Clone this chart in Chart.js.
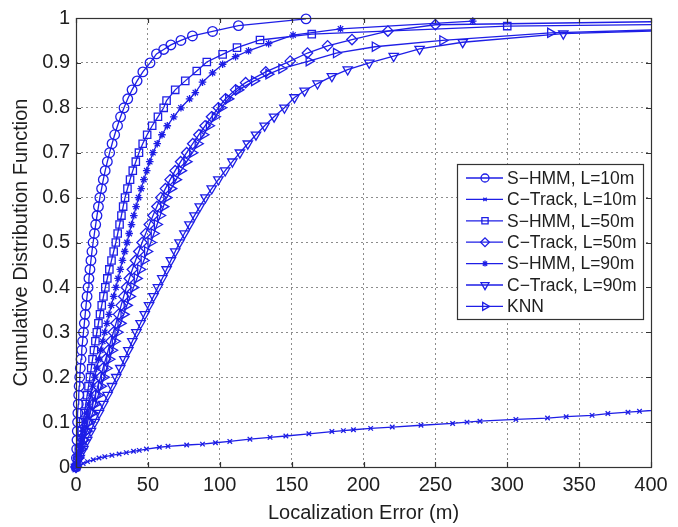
<!DOCTYPE html>
<html>
<head>
<meta charset="utf-8">
<script src="https://cdn.jsdelivr.net/npm/chart.js"></script>
<style>
  html, body { margin: 0; padding: 0; background: #fff; }
  #wrap { width: 678px; height: 527px; }
</style>
</head>
<body>
<div id="wrap"><canvas id="cdfChart" width="678" height="527"></canvas></div>
<script>
// legend labels, in legend order
const seriesNames = ['S\u2212HMM, L=10m', 'C\u2212Track, L=10m', 'S\u2212HMM, L=50m',
  'C\u2212Track, L=50m', 'S\u2212HMM, L=90m', 'C\u2212Track, L=90m', 'KNN'];

// CDF levels shared by the dense (lower) part of the curves
const levels = [0, 0.02, 0.04, 0.06, 0.08, 0.10, 0.12, 0.14, 0.16, 0.18, 0.20,
  0.22, 0.24, 0.26, 0.28, 0.30, 0.32, 0.34, 0.36, 0.38, 0.40, 0.42, 0.44, 0.46,
  0.48, 0.50, 0.52, 0.54, 0.56, 0.58, 0.60, 0.62, 0.64, 0.66, 0.68, 0.70, 0.72,
  0.74, 0.76, 0.78, 0.80];

// S-HMM, L=10m (circles)
const shmm10X = [0, 0.3, 0.5, 0.7, 0.9, 1.1, 1.3, 1.6, 1.9, 2.2, 2.6, 3.0, 3.5, 4.0,
  4.6, 5.2, 5.8, 6.4, 7.0, 7.7, 8.4, 9.0, 9.7, 10.4, 11.1, 11.9, 12.8, 13.7, 14.6,
  15.6, 16.6, 17.8, 19.0, 20.3, 21.8, 23.4, 25.1, 26.9, 28.9, 31.0, 33.4];
const shmm10TailX = [36, 39, 42.5, 46.5, 51.5, 56, 61, 66, 73, 81, 95, 113, 160];
const shmm10TailY = [0.82, 0.84, 0.86, 0.88, 0.90, 0.92, 0.93, 0.94, 0.95, 0.96, 0.97, 0.983, 0.998];

// C-Track, L=10m (x marks), full curve
const ctrack10X = [0, 2, 5, 8, 12, 16, 20, 25, 30, 35, 40, 44, 49, 58, 64, 77, 88, 97,
  107, 121, 135, 146, 162, 178, 186, 193, 205, 220, 240, 262, 272, 281, 306, 328,
  341, 359, 370, 384, 392, 430];
const ctrack10Y = [0, 0.003, 0.008, 0.012, 0.016, 0.02, 0.023, 0.026, 0.029, 0.032,
  0.035, 0.037, 0.04, 0.044, 0.046, 0.049, 0.051, 0.054, 0.057, 0.062, 0.066, 0.069,
  0.074, 0.079, 0.081, 0.083, 0.086, 0.089, 0.093, 0.097, 0.1, 0.102, 0.106, 0.109,
  0.112, 0.115, 0.119, 0.122, 0.124, 0.133];

// S-HMM, L=50m (squares)
const shmm50X = [0, 1.0, 2.0, 3.0, 4.0, 5.0, 5.9, 6.8, 7.8, 8.7, 9.7, 10.6, 11.5, 12.5,
  13.5, 14.5, 15.6, 16.7, 17.9, 19.1, 20.4, 21.8, 23.2, 24.7, 26.2, 27.7, 29.0, 30.3,
  31.6, 32.8, 34.1, 35.8, 37.6, 39.5, 41.6, 43.8, 46.4, 49.5, 53.0, 57.0, 61.0];
const shmm50TailX = [63, 69, 76, 84, 91, 102, 112, 128, 164, 300, 430];
const shmm50TailY = [0.816, 0.84, 0.86, 0.882, 0.902, 0.919, 0.934, 0.951, 0.964, 0.982, 0.986];

// C-Track, L=50m (diamonds)
const ctrack50X = [0, 1.6, 3.2, 4.8, 6.4, 8.0, 9.8, 11.6, 13.4, 15.2, 17.0, 18.8, 20.6,
  22.4, 24.2, 26.0, 27.8, 29.6, 31.4, 33.2, 35.0, 37.1, 39.2, 41.4, 43.7, 46.0, 48.5,
  51.0, 53.6, 56.3, 59.0, 62.2, 65.5, 69.0, 72.8, 77.0, 81.2, 85.5, 89.8, 94.3, 99.0];
const ctrack50TailX = [104, 111, 118, 132, 149, 161, 175, 192, 217, 250, 430];
const ctrack50TailY = [0.82, 0.84, 0.856, 0.88, 0.904, 0.922, 0.938, 0.952, 0.971, 0.985, 0.993];

// S-HMM, L=90m (stars)
const shmm90X = [0, 1.2, 2.4, 3.6, 4.8, 6.0, 7.4, 8.8, 10.2, 11.6, 13.0, 14.4, 15.8,
  17.2, 18.6, 20.0, 21.5, 23.0, 24.6, 26.2, 27.8, 29.3, 30.8, 32.3, 33.9, 35.5, 37.0,
  38.6, 40.2, 41.8, 43.5, 45.3, 47.2, 49.2, 51.3, 53.5, 56.5, 59.8, 63.5, 68.0, 73.0];
const shmm90TailX = [79, 83, 88, 95, 102, 111, 120, 134, 151, 184, 276];
const shmm90TailY = [0.82, 0.834, 0.857, 0.878, 0.897, 0.914, 0.927, 0.943, 0.962, 0.976, 0.993];

// C-Track, L=90m (down triangles)
const ctrack90X = [0, 2.6, 5.2, 7.8, 10.4, 13.0, 16.0, 19.0, 22.0, 25.0, 28.0, 30.8,
  33.6, 36.4, 39.2, 42.0, 44.9, 47.8, 50.8, 53.9, 57.0, 60.0, 63.0, 66.0, 69.0, 72.0,
  75.4, 78.9, 82.4, 86.1, 90.0, 94.4, 99.0, 103.8, 108.8, 114.0, 119.5, 125.2, 131.2,
  137.8, 145.0];
const ctrack90TailX = [152, 159, 168, 178, 189, 204, 221, 239, 269, 339, 430];
const ctrack90TailY = [0.823, 0.838, 0.854, 0.87, 0.885, 0.9, 0.915, 0.931, 0.946, 0.965, 0.974];

// KNN (right triangles)
const knnX = [0, 1.9, 3.8, 5.7, 7.6, 9.5, 11.5, 13.5, 15.5, 17.5, 19.5, 21.4, 23.3,
  25.2, 27.1, 29.0, 31.1, 33.2, 35.4, 37.7, 40.0, 42.4, 44.8, 47.2, 49.6, 52.0, 54.2,
  56.4, 58.6, 60.8, 63.0, 66.3, 69.7, 73.2, 77.0, 81.0, 84.8, 88.7, 92.6, 96.7, 101];
const knnTailX = [106, 113, 124, 134, 143, 162, 181, 208, 255, 330, 430];
const knnTailY = [0.82, 0.84, 0.86, 0.875, 0.887, 0.904, 0.922, 0.936, 0.95, 0.967, 0.976];

const xTicks = [0, 50, 100, 150, 200, 250, 300, 350, 400];
const yTickLabels = ['0', '0.1', '0.2', '0.3', '0.4', '0.5', '0.6', '0.7', '0.8', '0.9', '1'];

const blue = 'rgb(30,30,230)';
const textCol = '#1e1e1e';
const fontFam = '"Liberation Sans", Arial, Helvetica, sans-serif';

// dense part + tail -> {x, y} points
const curve = (xs, tailX, tailY) => {
  const pts = xs.map((x, i) => ({x: x, y: levels[i]}));
  tailX.forEach((x, i) => pts.push({x: x, y: tailY[i]}));
  return pts;
};
const pairs = (xs, ys) => xs.map((x, i) => ({x: x, y: ys[i]}));

const markers = [
  {style: 'circle', r: 4.8, rot: 0},
  {style: 'crossRot', r: 3.2, rot: 0},
  {style: 'rect', r: 5.2, rot: 0},
  {style: 'rectRot', r: 5.2, rot: 0},
  {style: 'star', r: 3.8, rot: 0},
  {style: 'triangle', r: 5.4, rot: 180},
  {style: 'triangle', r: 5.4, rot: 90}
];

const seriesData = [
  curve(shmm10X, shmm10TailX, shmm10TailY),
  pairs(ctrack10X, ctrack10Y),
  curve(shmm50X, shmm50TailX, shmm50TailY),
  curve(ctrack50X, ctrack50TailX, ctrack50TailY),
  curve(shmm90X, shmm90TailX, shmm90TailY),
  curve(ctrack90X, ctrack90TailX, ctrack90TailY),
  curve(knnX, knnTailX, knnTailY)
];

const datasets = seriesData.map((d, i) => ({
  label: seriesNames[i],
  data: d,
  borderColor: blue,
  borderWidth: 1.3,
  backgroundColor: 'rgba(0,0,0,0)',
  pointStyle: markers[i].style,
  pointRadius: markers[i].r,
  pointRotation: markers[i].rot,
  pointBorderColor: blue,
  pointBackgroundColor: 'rgba(0,0,0,0)',
  pointBorderWidth: 1.3,
  tension: 0,
  clip: {left: 8, top: 8, right: 0, bottom: 8}
}));

// box round the plot and the inward tick marks
const framePlugin = {
  id: 'frame',
  afterDatasetsDraw(chart) {
    const {ctx, chartArea: a, scales} = chart;
    ctx.save();
    ctx.strokeStyle = '#333';
    ctx.lineWidth = 1.2;
    ctx.strokeRect(Math.round(a.left) + 0.5, Math.round(a.top) + 0.5,
      Math.round(a.right - a.left), Math.round(a.bottom - a.top));
    ctx.beginPath();
    xTicks.forEach(v => {
      const px = Math.round(scales.x.getPixelForValue(v)) + 0.5;
      ctx.moveTo(px, a.bottom); ctx.lineTo(px, a.bottom - 5);
      ctx.moveTo(px, a.top); ctx.lineTo(px, a.top + 5);
    });
    yTickLabels.forEach((t, i) => {
      const py = Math.round(scales.y.getPixelForValue(i / 10)) + 0.5;
      ctx.moveTo(a.left, py); ctx.lineTo(a.left + 5, py);
      ctx.moveTo(a.right, py); ctx.lineTo(a.right - 5, py);
    });
    ctx.stroke();
    ctx.restore();
  }
};

// legend box inside the plot, like MATLAB's
const legendPlugin = {
  id: 'boxLegend',
  afterDraw(chart) {
    const ctx = chart.ctx;
    const bx = 457.5, by = 164.5, bw = 186, bh = 155, rowH = 21.4, firstRow = 178;
    ctx.save();
    ctx.fillStyle = '#fff';
    ctx.fillRect(bx, by, bw, bh);
    ctx.strokeStyle = '#333';
    ctx.lineWidth = 1.2;
    ctx.strokeRect(bx, by, bw, bh);
    ctx.font = '17.5px ' + fontFam;
    ctx.textBaseline = 'middle';
    seriesNames.forEach((name, i) => {
      const y = firstRow + i * rowH;
      ctx.strokeStyle = blue;
      ctx.lineWidth = 1.3;
      ctx.beginPath();
      ctx.moveTo(466, y); ctx.lineTo(503, y);
      ctx.stroke();
      const m = markers[i];
      if (Chart.helpers && Chart.helpers.drawPoint) {
        ctx.fillStyle = 'rgba(0,0,0,0)';
        Chart.helpers.drawPoint(ctx, {pointStyle: m.style, radius: m.r - 0.8, rotation: m.rot,
          borderWidth: 1.3}, 485, y);
      }
      ctx.fillStyle = textCol;
      ctx.fillText(name, 507, y + 1);
    });
    ctx.restore();
  }
};

new Chart(document.getElementById('cdfChart'), {
  type: 'line',
  data: {datasets: datasets},
  options: {
    responsive: false,
    animation: false,
    events: [],
    layout: {padding: {left: 0, right: 27, top: 15, bottom: 0}},
    plugins: {legend: {display: false}, tooltip: {enabled: false}},
    scales: {
      x: {
        type: 'linear',
        min: 0,
        max: 400,
        afterFit: s => { s.height = 60; },
        afterBuildTicks: s => { s.ticks = xTicks.map(v => ({value: v})); },
        ticks: {color: textCol, font: {family: fontFam, size: 20}, padding: 6, maxRotation: 0},
        grid: {color: '#8c8c8c', drawTicks: false, lineWidth: 1},
        border: {display: false, dash: [2, 3]},
        title: {display: true, text: 'Localization Error (m)', color: textCol,
          font: {family: fontFam, size: 20}, padding: {top: 0, bottom: 2}}
      },
      y: {
        type: 'linear',
        min: 0,
        max: 1,
        afterFit: s => { s.width = 76; },
        afterBuildTicks: s => { s.ticks = yTickLabels.map((t, i) => ({value: i / 10})); },
        ticks: {color: textCol, font: {family: fontFam, size: 20}, padding: 6,
          callback: (v, i) => yTickLabels[i]},
        grid: {color: '#8c8c8c', drawTicks: false, lineWidth: 1},
        border: {display: false, dash: [2, 3]},
        title: {display: true, text: 'Cumulative Distribution Function', color: textCol,
          font: {family: fontFam, size: 20}, padding: {top: 9, bottom: 0}}
      }
    }
  },
  plugins: [framePlugin, legendPlugin]
});
</script>
</body>
</html>
